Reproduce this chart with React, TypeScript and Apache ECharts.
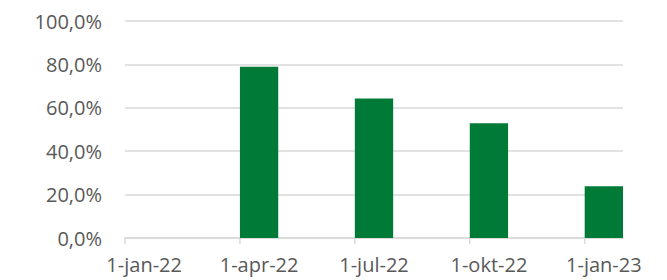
import React, { useEffect, useRef } from "react";
import * as echarts from "echarts";

const months = [
  "1-jan-22", "1-feb-22", "1-mrt-22", "1-apr-22", "1-mei-22", "1-jun-22",
  "1-jul-22", "1-aug-22", "1-sep-22", "1-okt-22", "1-nov-22", "1-dec-22", "1-jan-23",
];
const values: (number | null)[] = [
  null, null, null, 78.9, null, null, 64.3, null, null, 52.9, null, null, 23.9,
];
const yTicks = { min: 0, max: 100, interval: 20 };
const tickEvery = 3;

export default function App() {
  const ref = useRef<HTMLDivElement>(null);
  useEffect(() => {
    if (!ref.current) return;
    const chart = echarts.init(ref.current, undefined, { renderer: "svg" });
    const font = "'Open Sans', sans-serif";
    const tickData = months
      .map((m, i) => (i % tickEvery === 0 ? [m, 0] : null))
      .filter((d) => d !== null);
    chart.setOption({
      animation: false,
      grid: { left: 125, right: 44, top: 21, bottom: 42, containLabel: false },
      xAxis: {
        type: "category",
        data: months,
        boundaryGap: true,
        axisLine: { show: true, lineStyle: { color: "#d9d9d9", width: 1.5 } },
        axisTick: { show: false },
        axisLabel: {
          interval: (i: number) => i % tickEvery === 0,
          color: "#595959",
          fontFamily: font,
          fontSize: 20,
          margin: 16,
        },
        splitLine: { show: false },
      },
      yAxis: {
        type: "value",
        min: yTicks.min,
        max: yTicks.max,
        interval: yTicks.interval,
        axisLine: { show: false },
        axisTick: { show: false },
        axisLabel: {
          color: "#595959",
          fontFamily: font,
          fontSize: 20,
          margin: 23,
          formatter: (v: number) => v.toFixed(1).replace(".", ",") + "%",
        },
        splitLine: { show: true, lineStyle: { color: "#d9d9d9", width: 1.5 } },
      },
      series: [
        {
          type: "bar",
          data: values,
          barCategoryGap: "0%",
          itemStyle: { color: "#007a37" },
        },
        {
          type: "custom",
          data: tickData,
          clip: false,
          silent: true,
          renderItem: (params: any, api: any) => {
            const p = api.coord([api.value(0), 0]);
            const w = api.size([1, 0])[0];
            const x = p[0] - w / 2;
            return {
              type: "line",
              shape: { x1: x, y1: p[1], x2: x, y2: p[1] + 6 },
              style: { stroke: "#d9d9d9", lineWidth: 1.5 },
            };
          },
        },
      ],
    });
    return () => chart.dispose();
  }, []);
  return (
    <div
      ref={ref}
      style={{ position: "fixed", left: 0, top: 0, width: 667, height: 280, background: "#fff" }}
    />
  );
}
